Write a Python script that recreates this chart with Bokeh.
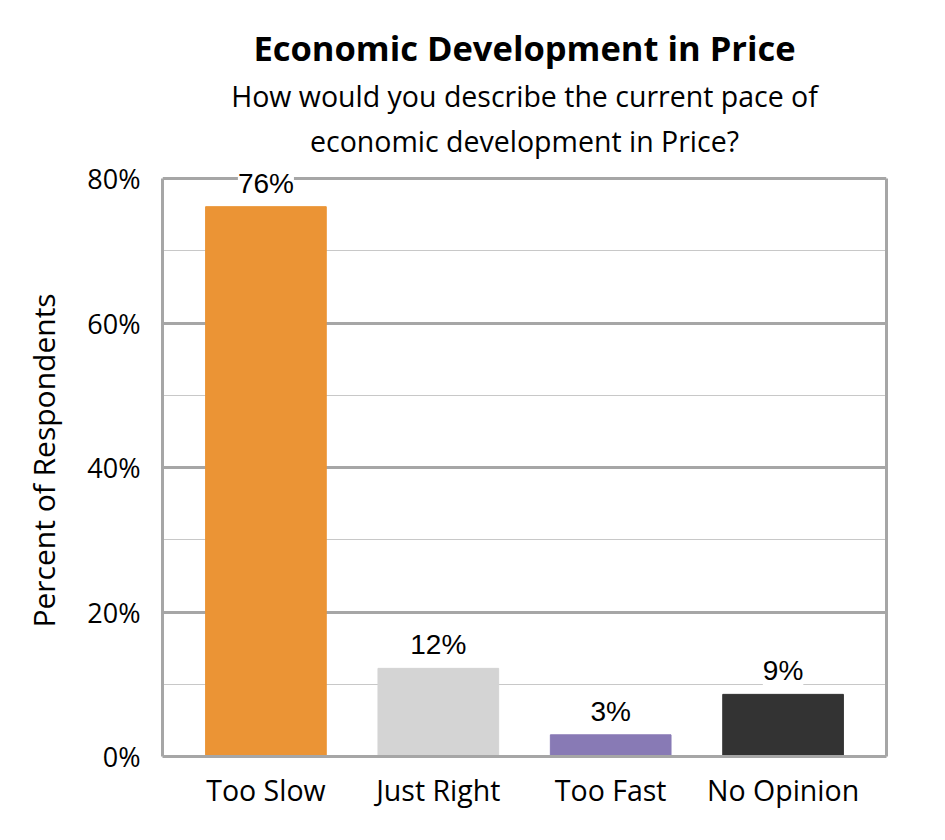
from bokeh.plotting import figure
from bokeh.models import (ColumnDataSource, LabelSet, FixedTicker, PrintfTickFormatter, Title,
                          FactorRange, Range1d, LinearAxis)
from bokeh.core.properties import value
from bokeh.embed import file_html
from bokeh.resources import INLINE

categories = ["Too Slow", "Just Right", "Too Fast", "No Opinion"]
values = [76.1, 12.2, 3.0, 8.6]
value_labels = ["76%", "12%", "3%", "9%"]
colors = ["#EB9435", "#D4D4D4", "#887AB5", "#333333"]
y_ticks = [0, 20, 40, 60, 80]
y_minor = [10, 30, 50, 70]
title_text = "Economic Development in Price"
subtitle_lines = ["How would you describe the current pace of", "economic development in Price?"]
y_title = "Percent of Respondents"

src = ColumnDataSource(dict(cat=categories, val=values, lab=value_labels, col=colors))

W, H = 925, 820
frame_top, frame_bottom, frame_left, frame_right = 164, 756, 162, 886
axis_top_px = 178  # pixel of the 80% line
y_max = y_ticks[-1]
y_end = y_max * (frame_bottom - frame_top) / (frame_bottom - axis_top_px)

p = figure(width=W, height=H, output_backend="svg", toolbar_location=None,
           x_range=FactorRange(*categories, range_padding=0.05), y_range=Range1d(0, y_end),
           min_border_left=frame_left, min_border_right=W - frame_right,
           min_border_top=frame_top, min_border_bottom=H - frame_bottom)

p.vbar(x="cat", top="val", width=0.7, color="col", source=src)

p.add_layout(LabelSet(x="cat", y="val", text="lab", source=src, y_offset=14,
                      text_align="center", text_baseline="alphabetic",
                      text_font=value("Liberation Sans"), text_font_size=value("28px"),
                      text_color="black", background_fill_color="white"))

border_col = "#A6A6A6"
p.outline_line_color = None

p.xgrid.grid_line_color = None
p.ygrid.grid_line_color = border_col
p.ygrid.grid_line_width = 3
p.ygrid.minor_grid_line_color = "#C8C8C8"
p.ygrid.minor_grid_line_width = 1

p.yaxis.ticker = FixedTicker(ticks=y_ticks, minor_ticks=y_minor)
p.yaxis.formatter = PrintfTickFormatter(format="%d%%")
p.yaxis.bounds = (0, y_max)
p.yaxis.axis_line_color = border_col
p.yaxis.axis_line_width = 3
p.yaxis.major_tick_line_color = None
p.yaxis.minor_tick_line_color = None
p.yaxis.major_label_text_font = "Open Sans"
p.yaxis.major_label_text_font_size = "27px"
p.yaxis.major_label_text_color = "black"
p.yaxis.major_label_standoff = 16
p.yaxis.axis_label = y_title
p.yaxis.axis_label_text_font = "Open Sans"
p.yaxis.axis_label_text_font_size = "30px"
p.yaxis.axis_label_text_font_style = "normal"
p.yaxis.axis_label_text_color = "black"
p.yaxis.axis_label_standoff = 20

right_axis = LinearAxis(ticker=FixedTicker(ticks=y_ticks), bounds=(0, y_max),
                        axis_line_color=border_col, axis_line_width=3,
                        major_tick_line_color=None, minor_tick_line_color=None,
                        major_label_text_font_size="0px", major_label_text_color=None)
p.add_layout(right_axis, "right")

p.xaxis.axis_line_color = border_col
p.xaxis.axis_line_width = 3
p.xaxis.major_tick_line_color = None
p.xaxis.minor_tick_line_color = None
p.xaxis.major_label_text_font = "Open Sans"
p.xaxis.major_label_text_font_size = "28.5px"
p.xaxis.major_label_text_color = "black"
p.xaxis.major_label_standoff = 8

p.title = None
p.add_layout(Title(text=subtitle_lines[1], align="center", text_font="Open Sans",
                   text_font_size="28.5px", text_font_style="normal", text_color="black",
                   standoff=10), "above")
p.add_layout(Title(text=subtitle_lines[0], align="center", text_font="Open Sans",
                   text_font_size="28.5px", text_font_style="normal", text_color="black",
                   standoff=0), "above")
p.add_layout(Title(text=title_text, align="center", text_font="Open Sans",
                   text_font_size="34.5px", text_font_style="bold", text_color="black",
                   standoff=8), "above")

open("out.html", "w").write(file_html(p, INLINE))
